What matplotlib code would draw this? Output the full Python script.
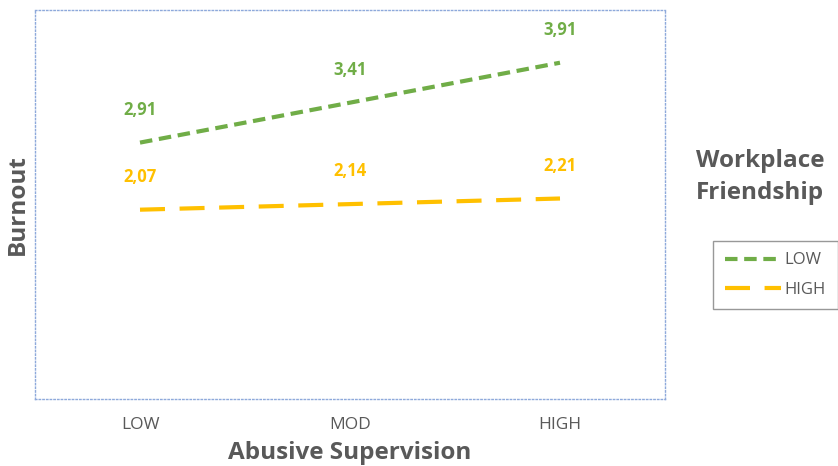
import matplotlib.pyplot as plt

# Burnout by abusive supervision, split by workplace friendship

levels = ["LOW", "MOD", "HIGH"]
friend_low = [2.91, 3.41, 3.91]
friend_high = [2.07, 2.14, 2.21]
labels_low = ["2,91", "3,41", "3,91"]
labels_high = ["2,07", "2,14", "2,21"]

green = "#70AD47"
orange = "#FFC000"
gray = "#595959"

plt.rcParams['font.family'] = ['Open Sans', 'DejaVu Sans']

fig = plt.figure(figsize=(8.38, 4.66), dpi=100)
ax = fig.add_axes([35 / 838, 1 - 399 / 466, 630 / 838, 389 / 466])

x = list(range(len(levels)))
ax.plot(x, friend_low, color=green, lw=3, dashes=(3, 1.6), label="LOW")
ax.plot(x, friend_high, color=orange, lw=3, dashes=(6, 3.5), label="HIGH")

for i in x:
    ax.annotate(labels_low[i], (x[i], friend_low[i]), xytext=(0, 17), textcoords="offset points",
                ha="center", va="bottom", color=green, fontsize=12, fontweight="bold")
    ax.annotate(labels_high[i], (x[i], friend_high[i]), xytext=(0, 17), textcoords="offset points",
                ha="center", va="bottom", color=orange, fontsize=12, fontweight="bold")

ax.set_xlim(-0.5, 2.5)
ax.set_ylim(-0.3, 4.57)
ax.set_xticks(x)
ax.set_xticklabels(levels, color=gray, fontsize=12.5)
ax.set_yticks([])
ax.tick_params(axis="x", length=0, pad=13)
for s in ax.spines.values():
    s.set_linestyle(":")
    s.set_color("#8EA9DB")
    s.set_linewidth(1)

ax.set_xlabel("Abusive Supervision", fontsize=17.5, fontweight="bold", color=gray, labelpad=6)
ax.set_ylabel("Burnout", fontsize=17.5, fontweight="bold", color=gray, labelpad=4)

fig.text(760 / 838, 1 - 177 / 466, "Workplace\nFriendship", ha="center", va="center",
         fontsize=17.5, fontweight="bold", color=gray, linespacing=1.4)

leg = fig.legend(loc="center left", bbox_to_anchor=(713 / 838, 1 - 275 / 466), fontsize=12,
                 handlelength=3.4, labelspacing=0.8, fancybox=False, borderpad=0.7,
                 handletextpad=0.2, borderaxespad=0)
leg.get_frame().set_edgecolor("#7f7f7f")
for t in leg.get_texts():
    t.set_color(gray)

plt.savefig("out.png", dpi=100)
